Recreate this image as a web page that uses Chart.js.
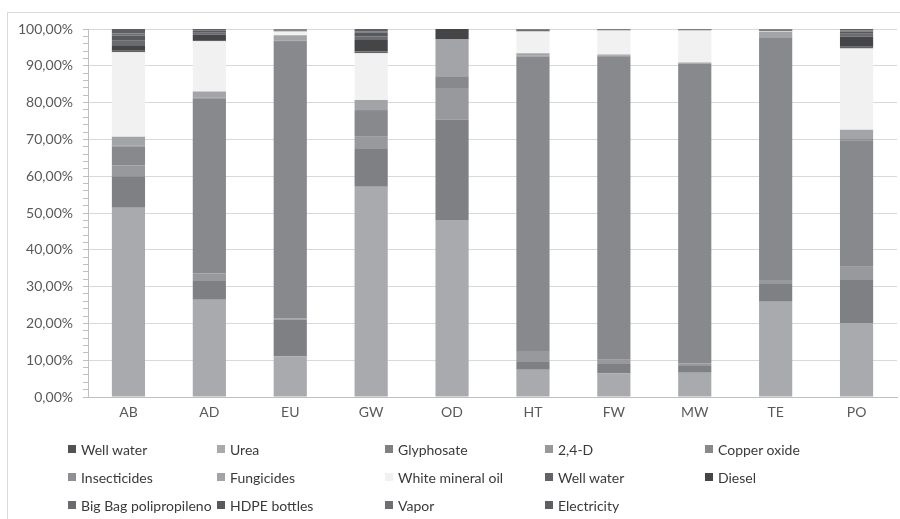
<!DOCTYPE html>
<html>
<head>
<meta charset="utf-8">
<script src="https://cdn.jsdelivr.net/npm/chart.js@4"></script>
<style>
  html, body { margin: 0; padding: 0; background: #fff; }
  #wrap { position: relative; width: 900px; height: 519px; overflow: hidden; }
  #frame { position: absolute; left: 7px; top: 12px; width: 900px; height: 520px; border: 1px solid #d9d9d9; box-sizing: border-box; }
  canvas { position: absolute; left: 0; top: 0; }
  #legend { position: absolute; left: 68px; top: 440px; display: grid; grid-template-columns: 149px 168px 160px 160px 160px; grid-auto-rows: 28px; font-family: Lato, "Open Sans", sans-serif; font-size: 14px; color: #3a3a3a; }
  #legend .item { display: flex; align-items: center; white-space: nowrap; height: 18px; }
  #legend .sw { width: 8px; height: 8px; margin-right: 5px; flex: none; }
</style>
</head>
<body>
<div id="wrap">
  <div id="frame"></div>
  <canvas id="c" width="900" height="519"></canvas>
  <div id="legend"></div>
</div>
<script>
// Impact categories
const categories = ['AB', 'AD', 'EU', 'GW', 'OD', 'HT', 'FW', 'MW', 'TE', 'PO'];

// Contribution of each input to every impact category (%)
const wellWater       = [0, 0, 0, 0, 0, 0, 0, 0, 0, 0];
const urea            = [51.4, 26.4, 11.0, 57.1, 48.1, 7.4, 6.4, 6.6, 25.9, 20.0];
const glyphosate      = [8.6, 5.1, 10.0, 10.5, 27.3, 2.1, 2.8, 1.8, 5.0, 11.8];
const twoFourD        = [3.0, 2.1, 0.4, 3.1, 8.6, 3.0, 0.9, 0.8, 0.9, 3.6];
const copperOxide     = [5.0, 47.6, 75.1, 7.0, 3.0, 80.0, 82.5, 81.4, 65.8, 34.4];
const insecticides    = [0.3, 0.2, 0.3, 0.3, 0.2, 0.2, 0.2, 0.1, 0.2, 0.3];
const fungicides      = [2.4, 1.6, 1.5, 2.7, 10.1, 0.7, 0.3, 0.2, 1.4, 2.5];
const whiteMineralOil = [23.0, 13.7, 1.0, 12.7, 0.0, 5.9, 6.5, 8.7, 0.1, 22.1];
const wellWaterIrr    = [0.4, 0.3, 0.2, 0.5, 0.0, 0.2, 0.1, 0.1, 0.1, 0.5];
const diesel          = [1.5, 1.5, 0.1, 3.1, 2.7, 0.2, 0.1, 0.1, 0.2, 2.7];
const bigBag          = [1.2, 0.5, 0.1, 1.0, 0.0, 0.1, 0.05, 0.05, 0.1, 0.8];
const hdpeBottles     = [1.4, 0.5, 0.1, 1.0, 0.0, 0.1, 0.05, 0.05, 0.1, 0.6];
const vapor           = [0.6, 0.2, 0.1, 0.4, 0.0, 0.05, 0.05, 0.05, 0.1, 0.3];
const electricity     = [1.2, 0.3, 0.1, 0.6, 0.0, 0.05, 0.05, 0.05, 0.1, 0.4];

const seriesNames = ['Well water', 'Urea', 'Glyphosate', '2,4-D', 'Copper oxide',
  'Insecticides', 'Fungicides', 'White mineral oil', 'Well water', 'Diesel',
  'Big Bag polipropileno', 'HDPE bottles', 'Vapor', 'Electricity'];
const seriesValues = [wellWater, urea, glyphosate, twoFourD, copperOxide,
  insecticides, fungicides, whiteMineralOil, wellWaterIrr, diesel,
  bigBag, hdpeBottles, vapor, electricity];
const seriesColors = ['#525254', '#a9aaad', '#7e8084', '#98999d', '#88898d',
  '#8f9094', '#a3a4a7', '#f1f1f1', '#626367', '#454547',
  '#6a6b6f', '#58595d', '#6e6f73', '#5e5f63'];

const fontFamily = 'Lato, "Open Sans", sans-serif';

const datasets = seriesNames.map((name, i) => ({
  label: name,
  data: seriesValues[i],
  backgroundColor: seriesColors[i],
  borderWidth: 0,
  categoryPercentage: 1,
  barPercentage: 0.41
}));

const chart = new Chart(document.getElementById('c'), {
  type: 'bar',
  data: { labels: categories, datasets },
  options: {
    responsive: false,
    animation: false,
    events: [],
    layout: { padding: { left: 0, top: 29, right: 3, bottom: 92 } },
    plugins: { legend: { display: false }, tooltip: { enabled: false } },
    scales: {
      x: {
        stacked: true,
        grid: { display: false, drawTicks: false },
        border: { color: '#bfbfbf', width: 1 },
        ticks: { color: '#595959', font: { family: fontFamily, size: 14 }, padding: 7 },
        afterFit: s => { s.height = 30; }
      },
      y: {
        stacked: true,
        min: 0,
        max: 100,
        afterBuildTicks: s => {
          const t = [];
          for (let v = 0; v <= 100; v += 2) t.push({ value: v });
          s.ticks = t;
        },
        grid: {
          color: ctx => (ctx.tick && ctx.tick.value % 10 === 0 && ctx.tick.value !== 0) ? '#d9d9d9' : 'rgba(0,0,0,0)',
          tickColor: '#bfbfbf',
          tickLength: 5,
          drawTicks: true
        },
        border: { color: '#bfbfbf', width: 1 },
        ticks: {
          autoSkip: false,
          color: '#595959',
          font: { family: fontFamily, size: 14 },
          padding: 10,
          callback: v => (v % 10 === 0) ? v.toFixed(2).replace('.', ',') + '%' : ''
        },
        afterFit: s => { s.width = 88; }
      }
    }
  }
});

// Legend grid, five entries per row
const legend = document.getElementById('legend');
chart.data.datasets.forEach(ds => {
  const item = document.createElement('div');
  item.className = 'item';
  const sw = document.createElement('span');
  sw.className = 'sw';
  sw.style.background = ds.backgroundColor;
  const txt = document.createElement('span');
  txt.textContent = ds.label;
  item.appendChild(sw);
  item.appendChild(txt);
  legend.appendChild(item);
});
</script>
</body>
</html>
